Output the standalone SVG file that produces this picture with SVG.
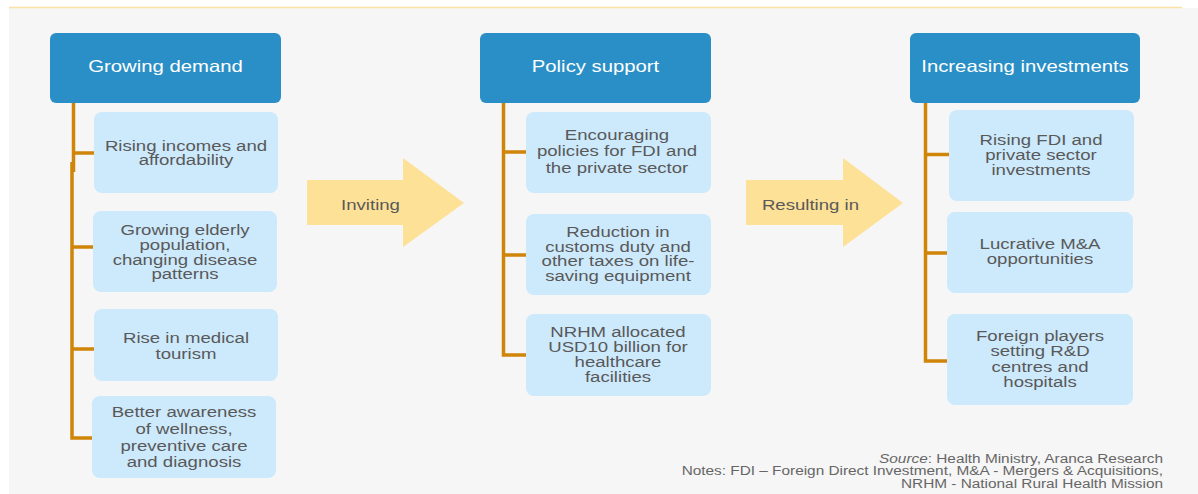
<svg xmlns="http://www.w3.org/2000/svg" width="1198" height="494" viewBox="0 0 1198 494">
<style>
.hdr{fill:#2a8fc6}
.sub{fill:#cde9fc}
.arr{fill:#fde197}
.ht{font-family:"Liberation Sans",Arial,sans-serif;font-size:16.5px;fill:#ffffff;text-anchor:middle}
.bt{font-family:"Liberation Sans",Arial,sans-serif;font-size:15.5px;fill:#595959;text-anchor:middle}
.nt{font-family:"Liberation Sans",Arial,sans-serif;font-size:12.3px;fill:#666666;text-anchor:end}
.con{fill:none;stroke:#cf8508;stroke-width:3.5}
</style>
<rect x="0" y="0" width="1198" height="494" fill="#ffffff"/>
<rect x="9" y="8" width="1189" height="486" fill="#f6f6f6"/>
<line x1="9" y1="7.5" x2="1182" y2="7.5" stroke="#fbe2a4" stroke-width="1.5"/>

<g id="connectors">
<path class="con" d="M73.5,103 V172"/>
<path class="con" d="M72,162 V438 H94"/>
<path class="con" d="M73.5,153 H94"/>
<path class="con" d="M72,247 H94"/>
<path class="con" d="M72,349 H94"/>
<path class="con" d="M503.5,103 V355 H526"/>
<path class="con" d="M503.5,152 H526"/>
<path class="con" d="M503.5,255 H526"/>
<path class="con" d="M925.5,103 V361 H948"/>
<path class="con" d="M925.5,154.5 H949"/>
<path class="con" d="M925.5,253 H947"/>
</g>

<g id="growing-demand">
<rect class="hdr" x="50" y="33" width="231" height="70" rx="6"/>
<text class="ht" transform="matrix(1.23 0 0 1 165.5 0)" x="0" y="72.5">Growing demand</text>
</g>
<g id="rising-incomes">
<rect class="sub" x="94" y="112" width="184" height="81" rx="8"/>
<text class="bt" transform="matrix(1.2 0 0 1 186 0)"><tspan x="0" y="150.7">Rising incomes and</tspan><tspan x="0" y="165.3">affordability</tspan></text>
</g>
<g id="elderly">
<rect class="sub" x="93" y="211" width="184" height="81" rx="8"/>
<text class="bt" transform="matrix(1.2 0 0 1 185 0)"><tspan x="0" y="235">Growing elderly</tspan><tspan x="0" y="249.8">population,</tspan><tspan x="0" y="264.6">changing disease</tspan><tspan x="0" y="279.4">patterns</tspan></text>
</g>
<g id="medical-tourism">
<rect class="sub" x="94" y="309" width="184" height="72" rx="8"/>
<text class="bt" transform="matrix(1.2 0 0 1 186 0)"><tspan x="0" y="342.7">Rise in medical</tspan><tspan x="0" y="358.8">tourism</tspan></text>
</g>
<g id="awareness">
<rect class="sub" x="92" y="396" width="184" height="82" rx="8"/>
<text class="bt" transform="matrix(1.2 0 0 1 184 0)"><tspan x="0" y="417.3">Better awareness</tspan><tspan x="0" y="434">of wellness,</tspan><tspan x="0" y="450.7">preventive care</tspan><tspan x="0" y="467.3">and diagnosis</tspan></text>
</g>

<g id="arrow-inviting">
<path class="arr" d="M307,180 H403 V158 L464,203 L403,247 V225 H307 Z"/>
<text class="bt" transform="matrix(1.2 0 0 1 370.5 0)" x="0" y="210">Inviting</text>
</g>

<g id="policy-support">
<rect class="hdr" x="480" y="33" width="231" height="70" rx="6"/>
<text class="ht" transform="matrix(1.23 0 0 1 595.5 0)" x="0" y="72.5">Policy support</text>
</g>
<g id="encouraging">
<rect class="sub" x="526" y="112" width="185" height="81" rx="8"/>
<text class="bt" transform="matrix(1.2 0 0 1 617 0)"><tspan x="0" y="140">Encouraging</tspan><tspan x="0" y="156.5">policies for FDI and</tspan><tspan x="0" y="172.8">the private sector</tspan></text>
</g>
<g id="customs">
<rect class="sub" x="526" y="214" width="185" height="81" rx="8"/>
<text class="bt" transform="matrix(1.2 0 0 1 618 0)"><tspan x="0" y="236.7">Reduction in</tspan><tspan x="0" y="251.6">customs duty and</tspan><tspan x="0" y="266.5">other taxes on life-</tspan><tspan x="0" y="281.4">saving equipment</tspan></text>
</g>
<g id="nrhm">
<rect class="sub" x="526" y="314" width="185" height="82" rx="8"/>
<text class="bt" transform="matrix(1.2 0 0 1 618 0)"><tspan x="0" y="336.7">NRHM allocated</tspan><tspan x="0" y="351.7">USD10 billion for</tspan><tspan x="0" y="366.7">healthcare</tspan><tspan x="0" y="381.7">facilities</tspan></text>
</g>

<g id="arrow-resulting">
<path class="arr" d="M746,180 H843 V158 L903,203 L843,247 V225 H746 Z"/>
<text class="bt" transform="matrix(1.2 0 0 1 810.5 0)" x="0" y="210">Resulting in</text>
</g>

<g id="increasing-investments">
<rect class="hdr" x="910" y="33" width="230" height="70" rx="6"/>
<text class="ht" transform="matrix(1.23 0 0 1 1025 0)" x="0" y="72.5">Increasing investments</text>
</g>
<g id="rising-fdi">
<rect class="sub" x="949" y="110" width="185" height="91" rx="8"/>
<text class="bt" transform="matrix(1.2 0 0 1 1041 0)"><tspan x="0" y="145">Rising FDI and</tspan><tspan x="0" y="160.3">private sector</tspan><tspan x="0" y="175.3">investments</tspan></text>
</g>
<g id="lucrative">
<rect class="sub" x="947" y="212" width="186" height="81" rx="8"/>
<text class="bt" transform="matrix(1.2 0 0 1 1040 0)"><tspan x="0" y="249.3">Lucrative M&amp;A</tspan><tspan x="0" y="264.3">opportunities</tspan></text>
</g>
<g id="foreign-players">
<rect class="sub" x="947" y="314" width="186" height="91" rx="8"/>
<text class="bt" transform="matrix(1.2 0 0 1 1040 0)"><tspan x="0" y="341">Foreign players</tspan><tspan x="0" y="356.5">setting R&amp;D</tspan><tspan x="0" y="372">centres and</tspan><tspan x="0" y="387.5">hospitals</tspan></text>
</g>

<g id="notes">
<text class="nt" transform="matrix(1.25 0 0 1 1163 0)"><tspan x="0" y="462.7"><tspan font-style="italic">Source</tspan>: Health Ministry, Aranca Research</tspan><tspan x="0" y="475.5">Notes: FDI – Foreign Direct Investment, M&amp;A - Mergers &amp; Acquisitions,</tspan><tspan x="0" y="488.3">NRHM - National Rural Health Mission</tspan></text>
</g>
</svg>
